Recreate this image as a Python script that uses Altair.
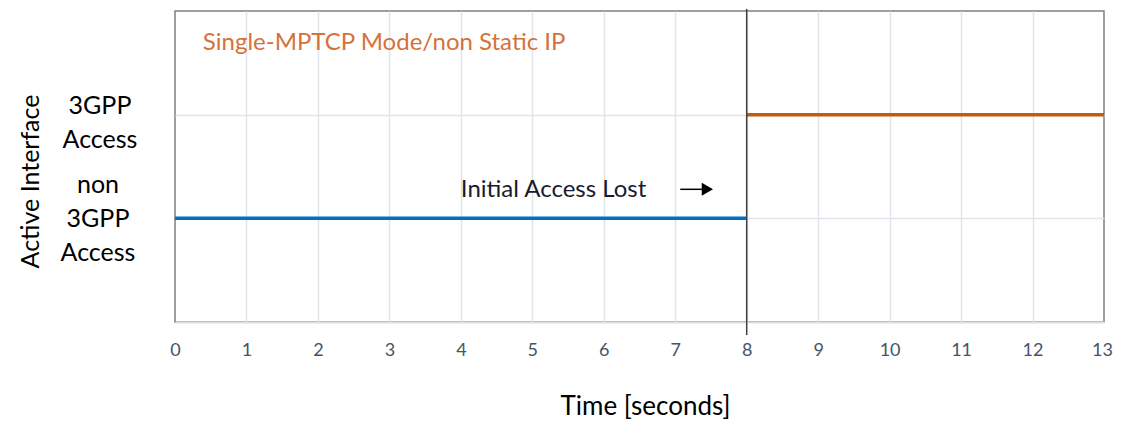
import altair as alt
import pandas as pd

# ---- data ----
seg_start = [0, 8]
seg_end = [8, 13]
seg_level = [1, 2]
seg_name = ["non 3GPP Access", "3GPP Access"]
seg_colors = ["#0070c0", "#c55a11"]

x_ticks = list(range(0, 14))
y_levels = [1, 2]
y_label_text = ["non\n3GPP\nAccess", "3GPP\nAccess"]

event_time = [8]
note_text = ["Initial Access Lost"]
note_x = [4.0]
note_y = [1.27]
arrow_x0 = [7.07]
arrow_x1 = [7.45]
arrow_y = [1.28]
mode_text = ["Single-MPTCP Mode/non Static IP"]
mode_x = [0.39]
mode_y = [2.69]

W, H = 929, 311
FONT = "Lato"

xs = alt.Scale(domain=[0, 13], nice=False, zero=False)
ys = alt.Scale(domain=[0, 3], nice=False, zero=False)

seg_df = pd.DataFrame({"start": seg_start, "end": seg_end, "level": seg_level, "name": seg_name})

base_axis_x = alt.Axis(
    values=x_ticks, format="d", title="Time [seconds]", labelFontSize=18, labelColor="#44546a",
    labelFont=FONT, labelPadding=19, labelFlush=False, ticks=False, domain=True,
    labelOffset={"condition": {"test": "datum.value == 13", "value": -2}, "value": 0},
    domainColor="#d9dde4", domainWidth=2, grid=True, gridColor="#e0e4eb", gridWidth=1.5,
    gridOpacity={"condition": {"test": "datum.value == 0 || datum.value == 13", "value": 0}, "value": 1},
    titleFont=FONT, titleFontSize=26, titleFontWeight="normal", titleColor="#000000",
    titleX=470, titleY=84, titleBaseline="middle", titleAlign="center",
)
base_axis_y = alt.Axis(
    values=y_levels, labels=False, ticks=False, domain=False, grid=True,
    gridColor="#e0e4eb", gridWidth=1.5, title="Active Interface",
    titleFont=FONT, titleFontSize=25, titleFontWeight="normal", titleColor="#000000",
    titleAngle=-90, titleX=-145, titleY=170, titleBaseline="middle", titleAlign="center",
)

segments = alt.Chart(seg_df).mark_rule(strokeWidth=3.5).encode(
    x=alt.X("start:Q", scale=xs, axis=base_axis_x),
    x2="end:Q",
    y=alt.Y("level:Q", scale=ys, axis=base_axis_y),
    color=alt.Color("name:N", scale=alt.Scale(domain=seg_name, range=seg_colors), legend=None),
)

event = alt.Chart(pd.DataFrame({"t": event_time})).mark_rule(color="#404040", strokeWidth=1.5).encode(
    x=alt.X("t:Q", scale=xs),
    y=alt.value(-2),
    y2=alt.value(H + 13),
)

ylab_df = pd.DataFrame({"level": y_levels, "text": y_label_text})
ylab_a = alt.Chart(ylab_df[ylab_df.level == 2]).mark_text(
    font=FONT, fontSize=25, lineBreak="\n", lineHeight=34, align="center", baseline="middle",
    color="#000000", dy=-9,
).encode(x=alt.value(-75), y=alt.Y("level:Q", scale=ys), text="text:N")
ylab_b = alt.Chart(ylab_df[ylab_df.level == 1]).mark_text(
    font=FONT, fontSize=25, lineBreak="\n", lineHeight=34, align="center", baseline="middle",
    color="#000000", dy=-33,
).encode(x=alt.value(-77), y=alt.Y("level:Q", scale=ys), text="text:N")

note = alt.Chart(pd.DataFrame({"x": note_x, "y": note_y, "t": note_text})).mark_text(
    font=FONT, fontSize=24, align="left", baseline="middle", color="#1a1a2e",
).encode(x=alt.X("x:Q", scale=xs), y=alt.Y("y:Q", scale=ys), text="t:N")

arrow_df = pd.DataFrame({"x0": arrow_x0, "x1": arrow_x1, "y": arrow_y})
arrow_line = alt.Chart(arrow_df).mark_rule(color="#000000", strokeWidth=1.5).encode(
    x=alt.X("x0:Q", scale=xs), x2="x1:Q", y=alt.Y("y:Q", scale=ys),
)
arrow_head = alt.Chart(arrow_df).mark_point(
    shape="triangle-right", filled=True, color="#000000", size=170, opacity=1,
).encode(x=alt.X("x1:Q", scale=xs), y=alt.Y("y:Q", scale=ys))

mode = alt.Chart(pd.DataFrame({"x": mode_x, "y": mode_y, "t": mode_text})).mark_text(
    font=FONT, fontSize=24, align="left", baseline="middle", color="#d4723a",
).encode(x=alt.X("x:Q", scale=xs), y=alt.Y("y:Q", scale=ys), text="t:N")

chart = alt.layer(segments, event, ylab_a, ylab_b, note, arrow_line, arrow_head, mode).properties(
    width=W, height=H,
    autosize=alt.AutoSizeParams(type="none"),
    padding={"left": 167, "top": 3, "right": 9, "bottom": 99},
    background="white",
).configure_view(stroke="#7f7f7f", strokeWidth=1.5)

chart.save("out.html", embed_options={"renderer": "svg", "actions": False})
